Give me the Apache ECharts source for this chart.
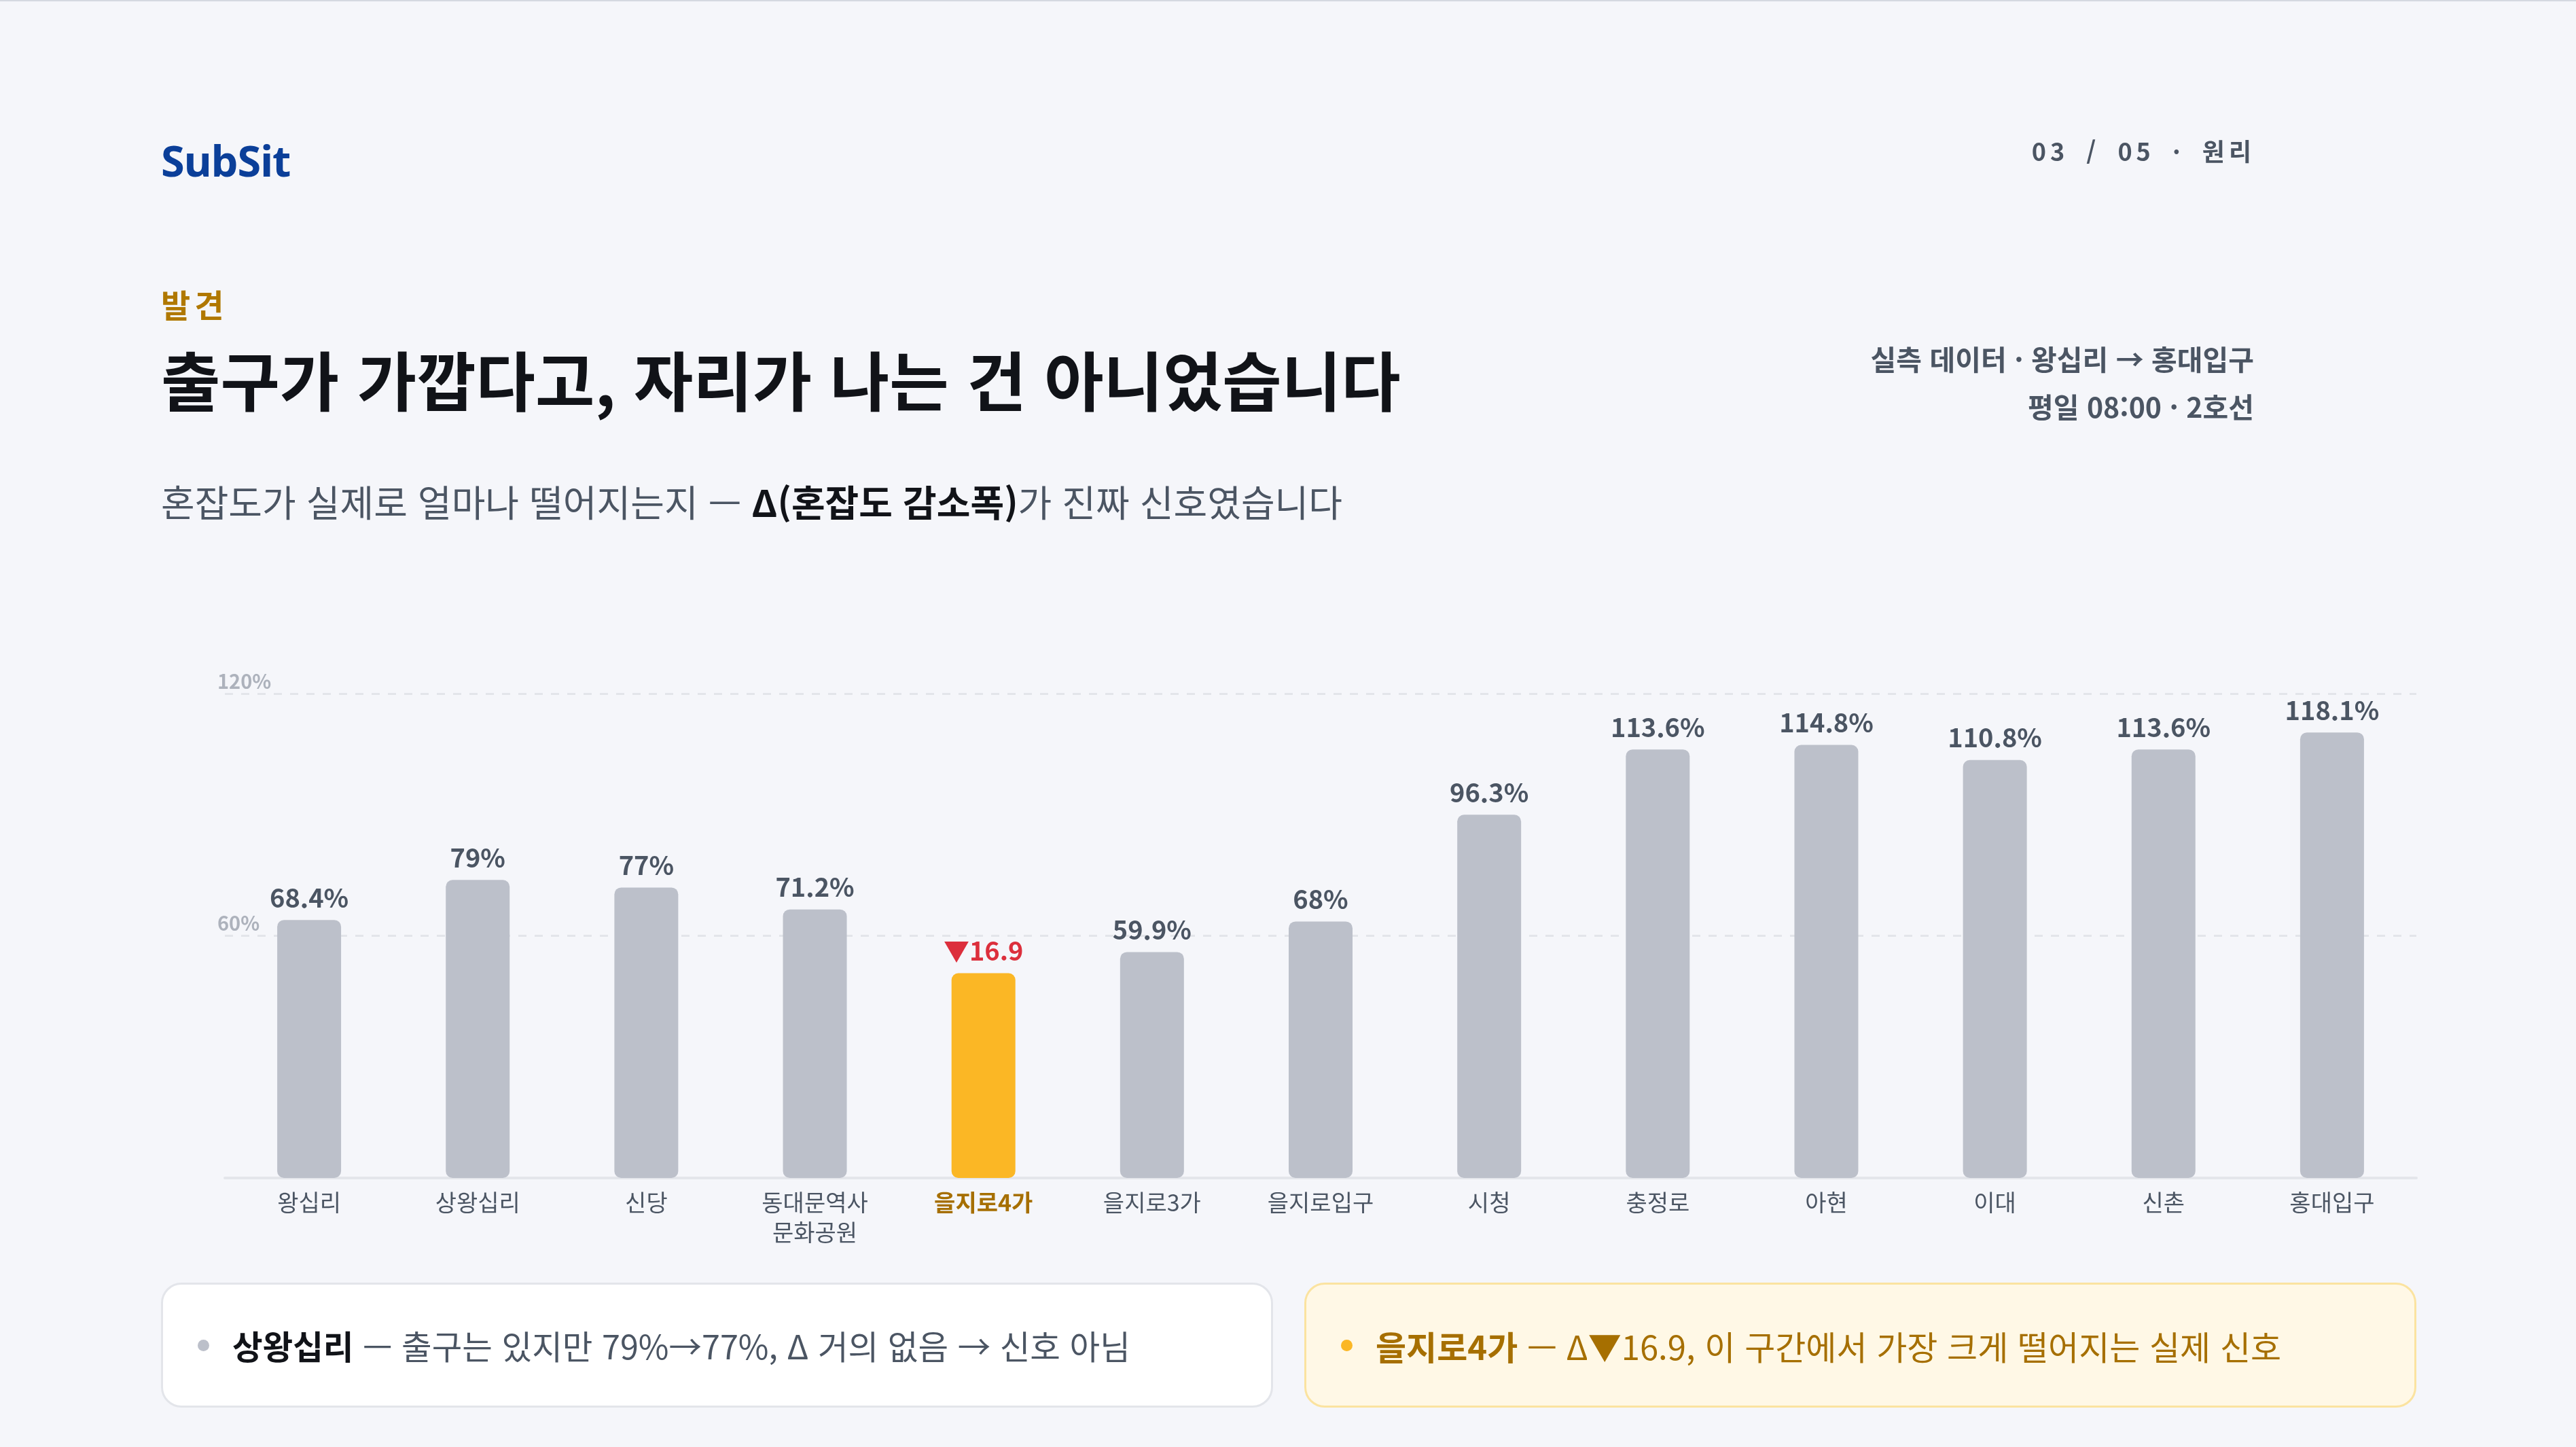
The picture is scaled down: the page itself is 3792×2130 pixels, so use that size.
<!DOCTYPE html>
<html lang="ko">
<head>
<meta charset="utf-8">
<script src="https://cdn.jsdelivr.net/npm/echarts@6/dist/echarts.min.js"></script>
<style>
  html, body { margin:0; padding:0; }
  body { width:3792px; height:2130px; background:#f5f6fa; position:relative; overflow:hidden;
         font-family:"Noto Sans CJK KR","Noto Sans",sans-serif; border-top:2px solid #d5d8e0; box-sizing:border-box; }
  #chart { position:absolute; left:0; top:0; width:3792px; height:2130px; }
  .t { position:absolute; white-space:nowrap; }
  #brand { left:237px; top:194px; font-size:63px; line-height:80px; font-weight:700; color:#0b3f99; font-family:"Noto Sans","Noto Sans CJK KR",sans-serif; letter-spacing:-1px; }
  #page { right:472px; top:194px; font-size:36px; line-height:50px; font-weight:700; color:#4b5563; letter-spacing:6px; word-spacing:10px; }
  #kicker { left:237px; top:415px; font-size:47px; line-height:60px; font-weight:700; color:#b07800; letter-spacing:6px; }
  #title { left:237px; top:497px; font-size:95px; line-height:116px; font-weight:700; color:#111318; letter-spacing:0; }
  #sub { left:237px; top:701px; font-size:54px; line-height:70px; color:#4b5563; }
  #sub b { color:#111318; font-weight:700; }
  #info { right:474px; top:490px; font-size:41px; line-height:70px; font-weight:700; color:#4b5563; text-align:right; }
  .card { position:absolute; top:1886px; height:184px; width:1637px; box-sizing:border-box; border-radius:30px;
          display:flex; align-items:center; padding-left:51px; font-size:49px; white-space:nowrap; }
  .card .dot { width:17px; height:17px; border-radius:50%; margin-right:34px; flex:none; }
  #c1 { left:237px; background:#ffffff; border:3px solid #e3e5ea; color:#4b5563; font-size:48.5px; }
  #c1 .dot { background:#bcc0ca; }
  #c1 b { color:#111318; }
  #c2 { left:1920px; background:#fff8e6; border:3px solid #fbe3a0; color:#a66f00; }
  #c2 .dot { background:#fbb725; }
</style>
</head>
<body>
<div id="chart"></div>
<div class="t" id="brand">SubSit</div>
<div class="t" id="page">03 / 05 · 원리</div>
<div class="t" id="kicker">발견</div>
<div class="t" id="title">출구가 가깝다고, 자리가 나는 건 아니었습니다</div>
<div class="t" id="sub">혼잡도가 실제로 얼마나 떨어지는지 — <b>Δ(혼잡도 감소폭)</b>가 진짜 신호였습니다</div>
<div class="t" id="info">실측 데이터 · 왕십리 → 홍대입구<br>평일 08:00 · 2호선</div>
<div class="card" id="c1"><span class="dot"></span><span><b>상왕십리</b> — 출구는 있지만 79%→77%, Δ 거의 없음 → 신호 아님</span></div>
<div class="card" id="c2"><span class="dot"></span><span><b>을지로4가</b> — Δ▼16.9, 이 구간에서 가장 크게 떨어지는 실제 신호</span></div>
<script>
const stations = ['왕십리','상왕십리','신당','동대문역사\n문화공원','을지로4가','을지로3가','을지로입구','시청','충정로','아현','이대','신촌','홍대입구'];
const congestion = [68.4, 79, 77, 71.2, 54.3, 59.9, 68, 96.3, 113.6, 114.8, 110.8, 113.6, 118.1];
const highlightIndex = 4;
const highlightDelta = 16.9;
const yTicks = [0, 60, 120];

const GRAY = '#bcc0ca', AMBER = '#fbb725', RED = '#dc2f3c', TEXT = '#4b5563';

const catData = stations.map((s, i) => i === highlightIndex
  ? { value: s, textStyle: { color: '#a66f00', fontWeight: 'bold' } }
  : s);

const barData = congestion.map((v, i) => i === highlightIndex
  ? { value: v, itemStyle: { color: AMBER }, label: { formatter: '▼' + highlightDelta, color: RED } }
  : v);

const chart = echarts.init(document.getElementById('chart'), null, { renderer: 'canvas' });
chart.setOption({
  backgroundColor: 'transparent',
  animation: false,
  textStyle: { fontFamily: '"Noto Sans CJK KR","Noto Sans",sans-serif' },
  grid: { left: 331, right: 235, top: 1019, bottom: 398, containLabel: false },
  xAxis: {
    type: 'category',
    data: catData,
    axisLine: { lineStyle: { color: '#e4e6eb', width: 4 } },
    axisTick: { show: false },
    axisLabel: { color: TEXT, fontSize: 34, lineHeight: 44, margin: 14, interval: 0 }
  },
  yAxis: [
    {
      type: 'value', min: yTicks[0], max: yTicks[yTicks.length - 1], interval: yTicks[1] - yTicks[0],
      axisLine: { show: false }, axisTick: { show: false },
      splitLine: { lineStyle: { color: '#e3e5ea', width: 3, type: [12, 12] } },
      axisLabel: {
        inside: true, align: 'left', verticalAlign: 'bottom', margin: -11,
        color: '#adb2bc', fontSize: 29, fontWeight: 'bold', padding: [0, 0, 4, 0],
        formatter: v => (v === 0 ? '' : v + '%')
      }
    },
    { type: 'value', min: 0, max: 128.4, show: false, splitLine: { show: false } }
  ],
  series: [{
    type: 'bar',
    yAxisIndex: 1,
    data: barData,
    barWidth: 94,
    itemStyle: { color: GRAY, borderRadius: 10 },
    label: {
      show: true, position: 'top', distance: 14,
      color: TEXT, fontSize: 38, fontWeight: 'bold',
      formatter: p => p.value + '%'
    }
  }]
});
</script>
</body>
</html>
